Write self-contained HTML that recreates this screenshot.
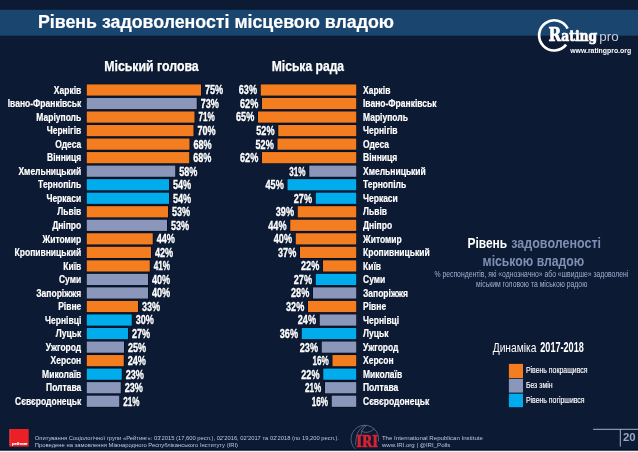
<!DOCTYPE html>
<html lang="uk"><head><meta charset="utf-8"><title>Рівень задоволеності місцевою владою</title>
<style>html,body{margin:0;padding:0;background:#0c1a33;}body{width:638px;height:452px;overflow:hidden;}svg{display:block;}text{font-family:"Liberation Sans",sans-serif;}.l{font-weight:bold;fill:#fff;stroke:#fff;stroke-width:0.2px;}.n{font-weight:bold;fill:#fff;stroke:#fff;stroke-width:0.35px;}</style>
</head><body>
<svg width="638" height="452" viewBox="0 0 638 452">
<rect x="0" y="0" width="638" height="452" fill="#0c1a33"/>
<rect x="0" y="9.8" width="638" height="25.9" fill="#19456f"/>
<text x="38" y="27.8" font-size="18" font-weight="bold" fill="#fff" stroke="#fff" stroke-width="0.2" textLength="356" lengthAdjust="spacingAndGlyphs">Рівень задоволеності місцевою владою</text>
<text x="104.2" y="70.8" font-size="14" font-weight="bold" fill="#fff" stroke="#fff" stroke-width="0.25" textLength="94.5" lengthAdjust="spacingAndGlyphs">Міський голова</text>
<text x="271.75" y="70.8" font-size="14" font-weight="bold" fill="#fff" stroke="#fff" stroke-width="0.25" textLength="72.3" lengthAdjust="spacingAndGlyphs">Міська рада</text>
<rect x="86.05" y="83.70" width="115.65" height="12.6" fill="#060e20"/>
<rect x="260.05" y="83.70" width="96.90" height="12.6" fill="#060e20"/>
<rect x="86.75" y="84.40" width="114.25" height="11.2" fill="#f47d20"/>
<rect x="260.75" y="84.40" width="95.50" height="11.2" fill="#f47d20"/>
<text class="l" x="53.82" y="93.65" font-size="10" textLength="27.43" lengthAdjust="spacingAndGlyphs">Харків</text>
<text class="l" x="363.00" y="93.65" font-size="10" textLength="27.43" lengthAdjust="spacingAndGlyphs">Харків</text>
<text class="n" x="205.00" y="94.40" font-size="13" textLength="18.20" lengthAdjust="spacingAndGlyphs">75%</text>
<text class="n" x="238.80" y="94.40" font-size="13" textLength="18.20" lengthAdjust="spacingAndGlyphs">63%</text>
<rect x="86.05" y="97.23" width="111.40" height="12.6" fill="#060e20"/>
<rect x="261.30" y="97.23" width="95.65" height="12.6" fill="#060e20"/>
<rect x="86.75" y="97.93" width="110.00" height="11.2" fill="#8a97ba"/>
<rect x="262.00" y="97.93" width="94.25" height="11.2" fill="#f47d20"/>
<text class="l" x="7.75" y="107.18" font-size="10" textLength="73.50" lengthAdjust="spacingAndGlyphs">Івано-Франківськ</text>
<text class="l" x="363.00" y="107.18" font-size="10" textLength="73.50" lengthAdjust="spacingAndGlyphs">Івано-Франківськ</text>
<text class="n" x="200.75" y="107.93" font-size="13" textLength="18.20" lengthAdjust="spacingAndGlyphs">73%</text>
<text class="n" x="240.05" y="107.93" font-size="13" textLength="18.20" lengthAdjust="spacingAndGlyphs">62%</text>
<rect x="86.05" y="110.76" width="109.15" height="12.6" fill="#060e20"/>
<rect x="257.30" y="110.76" width="99.65" height="12.6" fill="#060e20"/>
<rect x="86.75" y="111.46" width="107.75" height="11.2" fill="#f47d20"/>
<rect x="258.00" y="111.46" width="98.25" height="11.2" fill="#f47d20"/>
<text class="l" x="36.32" y="120.71" font-size="10" textLength="44.93" lengthAdjust="spacingAndGlyphs">Маріуполь</text>
<text class="l" x="363.00" y="120.71" font-size="10" textLength="44.93" lengthAdjust="spacingAndGlyphs">Маріуполь</text>
<text class="n" x="198.50" y="121.46" font-size="13" textLength="16.30" lengthAdjust="spacingAndGlyphs">71%</text>
<text class="n" x="236.05" y="121.46" font-size="13" textLength="18.20" lengthAdjust="spacingAndGlyphs">65%</text>
<rect x="86.05" y="124.30" width="108.15" height="12.6" fill="#060e20"/>
<rect x="277.55" y="124.30" width="79.40" height="12.6" fill="#060e20"/>
<rect x="86.75" y="125.00" width="106.75" height="11.2" fill="#f47d20"/>
<rect x="278.25" y="125.00" width="78.00" height="11.2" fill="#f47d20"/>
<text class="l" x="46.74" y="134.25" font-size="10" textLength="34.51" lengthAdjust="spacingAndGlyphs">Чернігів</text>
<text class="l" x="363.00" y="134.25" font-size="10" textLength="34.51" lengthAdjust="spacingAndGlyphs">Чернігів</text>
<text class="n" x="197.50" y="135.00" font-size="13" textLength="18.20" lengthAdjust="spacingAndGlyphs">70%</text>
<text class="n" x="256.30" y="135.00" font-size="13" textLength="18.20" lengthAdjust="spacingAndGlyphs">52%</text>
<rect x="86.05" y="137.83" width="104.15" height="12.6" fill="#060e20"/>
<rect x="276.80" y="137.83" width="80.15" height="12.6" fill="#060e20"/>
<rect x="86.75" y="138.53" width="102.75" height="11.2" fill="#f47d20"/>
<rect x="277.50" y="138.53" width="78.75" height="11.2" fill="#f47d20"/>
<text class="l" x="55.28" y="147.78" font-size="10" textLength="25.97" lengthAdjust="spacingAndGlyphs">Одеса</text>
<text class="l" x="363.00" y="147.78" font-size="10" textLength="25.97" lengthAdjust="spacingAndGlyphs">Одеса</text>
<text class="n" x="193.50" y="148.53" font-size="13" textLength="18.20" lengthAdjust="spacingAndGlyphs">68%</text>
<text class="n" x="255.55" y="148.53" font-size="13" textLength="18.20" lengthAdjust="spacingAndGlyphs">52%</text>
<rect x="86.05" y="151.36" width="103.90" height="12.6" fill="#060e20"/>
<rect x="261.30" y="151.36" width="95.65" height="12.6" fill="#060e20"/>
<rect x="86.75" y="152.06" width="102.50" height="11.2" fill="#f47d20"/>
<rect x="262.00" y="152.06" width="94.25" height="11.2" fill="#f47d20"/>
<text class="l" x="47.07" y="161.31" font-size="10" textLength="34.18" lengthAdjust="spacingAndGlyphs">Вінниця</text>
<text class="l" x="363.00" y="161.31" font-size="10" textLength="34.18" lengthAdjust="spacingAndGlyphs">Вінниця</text>
<text class="n" x="193.25" y="162.06" font-size="13" textLength="18.20" lengthAdjust="spacingAndGlyphs">68%</text>
<text class="n" x="240.05" y="162.06" font-size="13" textLength="18.20" lengthAdjust="spacingAndGlyphs">62%</text>
<rect x="86.05" y="164.89" width="89.90" height="12.6" fill="#060e20"/>
<rect x="308.55" y="164.89" width="48.40" height="12.6" fill="#060e20"/>
<rect x="86.75" y="165.59" width="88.50" height="11.2" fill="#8a97ba"/>
<rect x="309.25" y="165.59" width="47.00" height="11.2" fill="#8a97ba"/>
<text class="l" x="18.43" y="174.84" font-size="10" textLength="62.82" lengthAdjust="spacingAndGlyphs">Хмельницький</text>
<text class="l" x="363.00" y="174.84" font-size="10" textLength="62.82" lengthAdjust="spacingAndGlyphs">Хмельницький</text>
<text class="n" x="179.25" y="175.59" font-size="13" textLength="18.20" lengthAdjust="spacingAndGlyphs">58%</text>
<text class="n" x="289.20" y="175.59" font-size="13" textLength="16.30" lengthAdjust="spacingAndGlyphs">31%</text>
<rect x="86.05" y="178.42" width="83.65" height="12.6" fill="#060e20"/>
<rect x="286.80" y="178.42" width="70.15" height="12.6" fill="#060e20"/>
<rect x="86.75" y="179.12" width="82.25" height="11.2" fill="#00acec"/>
<rect x="287.50" y="179.12" width="68.75" height="11.2" fill="#00acec"/>
<text class="l" x="38.11" y="188.37" font-size="10" textLength="43.14" lengthAdjust="spacingAndGlyphs">Тернопіль</text>
<text class="l" x="363.00" y="188.37" font-size="10" textLength="43.14" lengthAdjust="spacingAndGlyphs">Тернопіль</text>
<text class="n" x="173.00" y="189.12" font-size="13" textLength="18.20" lengthAdjust="spacingAndGlyphs">54%</text>
<text class="n" x="265.55" y="189.12" font-size="13" textLength="18.20" lengthAdjust="spacingAndGlyphs">45%</text>
<rect x="86.05" y="191.96" width="83.65" height="12.6" fill="#060e20"/>
<rect x="315.05" y="191.96" width="41.90" height="12.6" fill="#060e20"/>
<rect x="86.75" y="192.66" width="82.25" height="11.2" fill="#00acec"/>
<rect x="315.75" y="192.66" width="40.50" height="11.2" fill="#00acec"/>
<text class="l" x="46.42" y="201.91" font-size="10" textLength="34.83" lengthAdjust="spacingAndGlyphs">Черкаси</text>
<text class="l" x="363.00" y="201.91" font-size="10" textLength="34.83" lengthAdjust="spacingAndGlyphs">Черкаси</text>
<text class="n" x="173.00" y="202.66" font-size="13" textLength="18.20" lengthAdjust="spacingAndGlyphs">54%</text>
<text class="n" x="293.80" y="202.66" font-size="13" textLength="18.20" lengthAdjust="spacingAndGlyphs">27%</text>
<rect x="86.05" y="205.49" width="82.65" height="12.6" fill="#060e20"/>
<rect x="297.05" y="205.49" width="59.90" height="12.6" fill="#060e20"/>
<rect x="86.75" y="206.19" width="81.25" height="11.2" fill="#f47d20"/>
<rect x="297.75" y="206.19" width="58.50" height="11.2" fill="#f47d20"/>
<text class="l" x="57.25" y="215.44" font-size="10" textLength="24.00" lengthAdjust="spacingAndGlyphs">Львів</text>
<text class="l" x="363.00" y="215.44" font-size="10" textLength="24.00" lengthAdjust="spacingAndGlyphs">Львів</text>
<text class="n" x="172.00" y="216.19" font-size="13" textLength="18.20" lengthAdjust="spacingAndGlyphs">53%</text>
<text class="n" x="275.80" y="216.19" font-size="13" textLength="18.20" lengthAdjust="spacingAndGlyphs">39%</text>
<rect x="86.05" y="219.02" width="81.65" height="12.6" fill="#060e20"/>
<rect x="289.55" y="219.02" width="67.40" height="12.6" fill="#060e20"/>
<rect x="86.75" y="219.72" width="80.25" height="11.2" fill="#8a97ba"/>
<rect x="290.25" y="219.72" width="66.00" height="11.2" fill="#f47d20"/>
<text class="l" x="52.18" y="228.97" font-size="10" textLength="29.07" lengthAdjust="spacingAndGlyphs">Дніпро</text>
<text class="l" x="363.00" y="228.97" font-size="10" textLength="29.07" lengthAdjust="spacingAndGlyphs">Дніпро</text>
<text class="n" x="171.00" y="229.72" font-size="13" textLength="18.20" lengthAdjust="spacingAndGlyphs">53%</text>
<text class="n" x="268.30" y="229.72" font-size="13" textLength="18.20" lengthAdjust="spacingAndGlyphs">44%</text>
<rect x="86.05" y="232.55" width="67.40" height="12.6" fill="#060e20"/>
<rect x="295.05" y="232.55" width="61.90" height="12.6" fill="#060e20"/>
<rect x="86.75" y="233.25" width="66.00" height="11.2" fill="#f47d20"/>
<rect x="295.75" y="233.25" width="60.50" height="11.2" fill="#f47d20"/>
<text class="l" x="42.51" y="242.50" font-size="10" textLength="38.74" lengthAdjust="spacingAndGlyphs">Житомир</text>
<text class="l" x="363.00" y="242.50" font-size="10" textLength="38.74" lengthAdjust="spacingAndGlyphs">Житомир</text>
<text class="n" x="156.75" y="243.25" font-size="13" textLength="18.20" lengthAdjust="spacingAndGlyphs">44%</text>
<text class="n" x="273.80" y="243.25" font-size="13" textLength="18.20" lengthAdjust="spacingAndGlyphs">40%</text>
<rect x="86.05" y="246.08" width="65.65" height="12.6" fill="#060e20"/>
<rect x="299.30" y="246.08" width="57.65" height="12.6" fill="#060e20"/>
<rect x="86.75" y="246.78" width="64.25" height="11.2" fill="#f47d20"/>
<rect x="300.00" y="246.78" width="56.25" height="11.2" fill="#f47d20"/>
<text class="l" x="14.58" y="256.03" font-size="10" textLength="66.67" lengthAdjust="spacingAndGlyphs">Кропивницький</text>
<text class="l" x="363.00" y="256.03" font-size="10" textLength="66.67" lengthAdjust="spacingAndGlyphs">Кропивницький</text>
<text class="n" x="155.00" y="256.78" font-size="13" textLength="18.20" lengthAdjust="spacingAndGlyphs">42%</text>
<text class="n" x="278.05" y="256.78" font-size="13" textLength="18.20" lengthAdjust="spacingAndGlyphs">37%</text>
<rect x="86.05" y="259.62" width="64.40" height="12.6" fill="#060e20"/>
<rect x="322.30" y="259.62" width="34.65" height="12.6" fill="#060e20"/>
<rect x="86.75" y="260.32" width="63.00" height="11.2" fill="#f47d20"/>
<rect x="323.00" y="260.32" width="33.25" height="11.2" fill="#f47d20"/>
<text class="l" x="63.22" y="269.57" font-size="10" textLength="18.03" lengthAdjust="spacingAndGlyphs">Київ</text>
<text class="l" x="363.00" y="269.57" font-size="10" textLength="18.03" lengthAdjust="spacingAndGlyphs">Київ</text>
<text class="n" x="153.75" y="270.32" font-size="13" textLength="16.30" lengthAdjust="spacingAndGlyphs">41%</text>
<text class="n" x="301.05" y="270.32" font-size="13" textLength="18.20" lengthAdjust="spacingAndGlyphs">22%</text>
<rect x="86.05" y="273.15" width="62.65" height="12.6" fill="#060e20"/>
<rect x="315.05" y="273.15" width="41.90" height="12.6" fill="#060e20"/>
<rect x="86.75" y="273.85" width="61.25" height="11.2" fill="#8a97ba"/>
<rect x="315.75" y="273.85" width="40.50" height="11.2" fill="#00acec"/>
<text class="l" x="58.98" y="283.10" font-size="10" textLength="22.27" lengthAdjust="spacingAndGlyphs">Суми</text>
<text class="l" x="363.00" y="283.10" font-size="10" textLength="22.27" lengthAdjust="spacingAndGlyphs">Суми</text>
<text class="n" x="152.00" y="283.85" font-size="13" textLength="18.20" lengthAdjust="spacingAndGlyphs">40%</text>
<text class="n" x="293.80" y="283.85" font-size="13" textLength="18.20" lengthAdjust="spacingAndGlyphs">27%</text>
<rect x="86.05" y="286.68" width="62.65" height="12.6" fill="#060e20"/>
<rect x="312.30" y="286.68" width="44.65" height="12.6" fill="#060e20"/>
<rect x="86.75" y="287.38" width="61.25" height="11.2" fill="#8a97ba"/>
<rect x="313.00" y="287.38" width="43.25" height="11.2" fill="#8a97ba"/>
<text class="l" x="36.31" y="296.63" font-size="10" textLength="44.94" lengthAdjust="spacingAndGlyphs">Запоріжжя</text>
<text class="l" x="363.00" y="296.63" font-size="10" textLength="44.94" lengthAdjust="spacingAndGlyphs">Запоріжжя</text>
<text class="n" x="152.00" y="297.38" font-size="13" textLength="18.20" lengthAdjust="spacingAndGlyphs">40%</text>
<text class="n" x="291.05" y="297.38" font-size="13" textLength="18.20" lengthAdjust="spacingAndGlyphs">28%</text>
<rect x="86.05" y="300.21" width="52.65" height="12.6" fill="#060e20"/>
<rect x="307.30" y="300.21" width="49.65" height="12.6" fill="#060e20"/>
<rect x="86.75" y="300.91" width="51.25" height="11.2" fill="#f47d20"/>
<rect x="308.00" y="300.91" width="48.25" height="11.2" fill="#f47d20"/>
<text class="l" x="58.13" y="310.16" font-size="10" textLength="23.12" lengthAdjust="spacingAndGlyphs">Рівне</text>
<text class="l" x="363.00" y="310.16" font-size="10" textLength="23.12" lengthAdjust="spacingAndGlyphs">Рівне</text>
<text class="n" x="142.00" y="310.91" font-size="13" textLength="18.20" lengthAdjust="spacingAndGlyphs">33%</text>
<text class="n" x="286.05" y="310.91" font-size="13" textLength="18.20" lengthAdjust="spacingAndGlyphs">32%</text>
<rect x="86.05" y="313.74" width="46.40" height="12.6" fill="#060e20"/>
<rect x="319.05" y="313.74" width="37.90" height="12.6" fill="#060e20"/>
<rect x="86.75" y="314.44" width="45.00" height="11.2" fill="#00acec"/>
<rect x="319.75" y="314.44" width="36.50" height="11.2" fill="#8a97ba"/>
<text class="l" x="45.05" y="323.69" font-size="10" textLength="36.20" lengthAdjust="spacingAndGlyphs">Чернівці</text>
<text class="l" x="363.00" y="323.69" font-size="10" textLength="36.20" lengthAdjust="spacingAndGlyphs">Чернівці</text>
<text class="n" x="135.75" y="324.44" font-size="13" textLength="18.20" lengthAdjust="spacingAndGlyphs">30%</text>
<text class="n" x="297.80" y="324.44" font-size="13" textLength="18.20" lengthAdjust="spacingAndGlyphs">24%</text>
<rect x="86.05" y="327.28" width="42.65" height="12.6" fill="#060e20"/>
<rect x="301.05" y="327.28" width="55.90" height="12.6" fill="#060e20"/>
<rect x="86.75" y="327.98" width="41.25" height="11.2" fill="#00acec"/>
<rect x="301.75" y="327.98" width="54.50" height="11.2" fill="#00acec"/>
<text class="l" x="55.85" y="337.23" font-size="10" textLength="25.40" lengthAdjust="spacingAndGlyphs">Луцьк</text>
<text class="l" x="363.00" y="337.23" font-size="10" textLength="25.40" lengthAdjust="spacingAndGlyphs">Луцьк</text>
<text class="n" x="132.00" y="337.98" font-size="13" textLength="18.20" lengthAdjust="spacingAndGlyphs">27%</text>
<text class="n" x="279.80" y="337.98" font-size="13" textLength="18.20" lengthAdjust="spacingAndGlyphs">36%</text>
<rect x="86.05" y="340.81" width="38.65" height="12.6" fill="#060e20"/>
<rect x="321.05" y="340.81" width="35.90" height="12.6" fill="#060e20"/>
<rect x="86.75" y="341.51" width="37.25" height="11.2" fill="#8a97ba"/>
<rect x="321.75" y="341.51" width="34.50" height="11.2" fill="#8a97ba"/>
<text class="l" x="45.76" y="350.76" font-size="10" textLength="35.49" lengthAdjust="spacingAndGlyphs">Ужгород</text>
<text class="l" x="363.00" y="350.76" font-size="10" textLength="35.49" lengthAdjust="spacingAndGlyphs">Ужгород</text>
<text class="n" x="128.00" y="351.51" font-size="13" textLength="18.20" lengthAdjust="spacingAndGlyphs">25%</text>
<text class="n" x="299.80" y="351.51" font-size="13" textLength="18.20" lengthAdjust="spacingAndGlyphs">23%</text>
<rect x="86.05" y="354.34" width="38.40" height="12.6" fill="#060e20"/>
<rect x="331.80" y="354.34" width="25.15" height="12.6" fill="#060e20"/>
<rect x="86.75" y="355.04" width="37.00" height="11.2" fill="#f47d20"/>
<rect x="332.50" y="355.04" width="23.75" height="11.2" fill="#f47d20"/>
<text class="l" x="50.61" y="364.29" font-size="10" textLength="30.64" lengthAdjust="spacingAndGlyphs">Херсон</text>
<text class="l" x="363.00" y="364.29" font-size="10" textLength="30.64" lengthAdjust="spacingAndGlyphs">Херсон</text>
<text class="n" x="127.75" y="365.04" font-size="13" textLength="18.20" lengthAdjust="spacingAndGlyphs">24%</text>
<text class="n" x="312.45" y="365.04" font-size="13" textLength="16.30" lengthAdjust="spacingAndGlyphs">16%</text>
<rect x="86.05" y="367.87" width="36.40" height="12.6" fill="#060e20"/>
<rect x="322.55" y="367.87" width="34.40" height="12.6" fill="#060e20"/>
<rect x="86.75" y="368.57" width="35.00" height="11.2" fill="#00acec"/>
<rect x="323.25" y="368.57" width="33.00" height="11.2" fill="#00acec"/>
<text class="l" x="42.08" y="377.82" font-size="10" textLength="39.17" lengthAdjust="spacingAndGlyphs">Миколаїв</text>
<text class="l" x="363.00" y="377.82" font-size="10" textLength="39.17" lengthAdjust="spacingAndGlyphs">Миколаїв</text>
<text class="n" x="125.75" y="378.57" font-size="13" textLength="18.20" lengthAdjust="spacingAndGlyphs">23%</text>
<text class="n" x="301.30" y="378.57" font-size="13" textLength="18.20" lengthAdjust="spacingAndGlyphs">22%</text>
<rect x="86.05" y="381.40" width="35.40" height="12.6" fill="#060e20"/>
<rect x="324.30" y="381.40" width="32.65" height="12.6" fill="#060e20"/>
<rect x="86.75" y="382.10" width="34.00" height="11.2" fill="#8a97ba"/>
<rect x="325.00" y="382.10" width="31.25" height="11.2" fill="#8a97ba"/>
<text class="l" x="46.03" y="391.35" font-size="10" textLength="35.22" lengthAdjust="spacingAndGlyphs">Полтава</text>
<text class="l" x="363.00" y="391.35" font-size="10" textLength="35.22" lengthAdjust="spacingAndGlyphs">Полтава</text>
<text class="n" x="124.75" y="392.10" font-size="13" textLength="18.20" lengthAdjust="spacingAndGlyphs">23%</text>
<text class="n" x="304.95" y="392.10" font-size="13" textLength="16.30" lengthAdjust="spacingAndGlyphs">21%</text>
<rect x="86.05" y="394.94" width="33.90" height="12.6" fill="#060e20"/>
<rect x="331.05" y="394.94" width="25.90" height="12.6" fill="#060e20"/>
<rect x="86.75" y="395.64" width="32.50" height="11.2" fill="#8a97ba"/>
<rect x="331.75" y="395.64" width="24.50" height="11.2" fill="#8a97ba"/>
<text class="l" x="15.07" y="404.89" font-size="10" textLength="66.18" lengthAdjust="spacingAndGlyphs">Сєвєродонецьк</text>
<text class="l" x="363.00" y="404.89" font-size="10" textLength="66.18" lengthAdjust="spacingAndGlyphs">Сєвєродонецьк</text>
<text class="n" x="123.25" y="405.64" font-size="13" textLength="16.30" lengthAdjust="spacingAndGlyphs">21%</text>
<text class="n" x="311.70" y="405.64" font-size="13" textLength="16.30" lengthAdjust="spacingAndGlyphs">16%</text>
<text x="467.4" y="248" font-size="14.5" font-weight="bold" fill="#fff" textLength="39.8" lengthAdjust="spacingAndGlyphs">Рівень</text>
<text x="511.3" y="248" font-size="14.5" font-weight="bold" fill="#7f8eb2" textLength="89.7" lengthAdjust="spacingAndGlyphs">задоволеності</text>
<text x="482.6" y="265.6" font-size="14.5" font-weight="bold" fill="#7f8eb2" textLength="101.7" lengthAdjust="spacingAndGlyphs">міською владою</text>
<text x="434.5" y="276.5" font-size="8.8" fill="#a3b1d2" textLength="193.8" lengthAdjust="spacingAndGlyphs">% респондентів, які «однозначно» або «швидше» задоволені</text>
<text x="476" y="286.6" font-size="8.8" fill="#a3b1d2" textLength="111.3" lengthAdjust="spacingAndGlyphs">міським головою та міською радою</text>
<text x="492.7" y="352.2" font-size="13.2" fill="#fff" textLength="43.8" lengthAdjust="spacingAndGlyphs">Динаміка</text>
<text x="540.3" y="352.2" font-size="14" font-weight="bold" fill="#fff" textLength="43.5" lengthAdjust="spacingAndGlyphs">2017-2018</text>
<rect x="508.9" y="363.9" width="14.1" height="14.1" fill="#f47d20"/>
<rect x="508.9" y="378.8" width="14.1" height="13.8" fill="#8a97ba"/>
<rect x="508.9" y="393.7" width="14.1" height="13.5" fill="#00acec"/>
<text x="525.9" y="373.1" font-size="9" fill="#fff" stroke="#fff" stroke-width="0.15" textLength="61.6" lengthAdjust="spacingAndGlyphs">Рівень покращився</text>
<text x="525.9" y="387.9" font-size="9" fill="#fff" stroke="#fff" stroke-width="0.15" textLength="26.6" lengthAdjust="spacingAndGlyphs">Без змін</text>
<text x="525.9" y="402.8" font-size="9" fill="#fff" stroke="#fff" stroke-width="0.15" textLength="58.7" lengthAdjust="spacingAndGlyphs">Рівень погіршився</text>
<path d="M 567.65 28.54 A 15.1 15.1 0 1 0 566.1 44.7" fill="none" stroke="#fff" stroke-width="2.7"/>
<text y="41.3" font-weight="bold" fill="#fff" stroke="#fff" stroke-width="0.7" style="font-family:'DejaVu Serif','Liberation Serif',serif"><tspan x="548.5" font-size="18.6" textLength="12.6" lengthAdjust="spacingAndGlyphs">R</tspan><tspan x="561.2" font-size="14" textLength="36" lengthAdjust="spacingAndGlyphs">ating</tspan></text>
<text x="599.3" y="40.9" font-size="13.7" fill="#c3ccdf" textLength="19.4" lengthAdjust="spacingAndGlyphs">pro</text>
<text x="570.2" y="53" font-size="7.6" font-weight="bold" fill="#fff" textLength="60.9" lengthAdjust="spacingAndGlyphs">www.ratingpro.org</text>
<rect x="9.3" y="429" width="19.4" height="17.6" fill="#eb2027"/>
<line x1="9.9" y1="429.5" x2="9.9" y2="446" stroke="#fff" stroke-width="0.5" stroke-dasharray="1 0.8" opacity="0.55"/>
<text x="12" y="445.4" font-size="3.6" font-weight="bold" fill="#fff" stroke="#fff" stroke-width="0.15" textLength="15.8" lengthAdjust="spacingAndGlyphs">рейтинг</text>
<text x="34.8" y="439.9" font-size="6.0" fill="#bcc8e0" textLength="304.2" lengthAdjust="spacingAndGlyphs">Опитування Соціологічної групи «Рейтинг»: 03'2015 (17,600 респ.), 02'2016, 02'2017 та 02'2018 (по 19,200 респ.).</text>
<text x="34.8" y="446.9" font-size="6.0" fill="#bcc8e0" textLength="203.2" lengthAdjust="spacingAndGlyphs">Проведене на замовлення Міжнародного Республіканського Інституту (IRI)</text>
<g fill="none" stroke="#8e9ab8" stroke-width="0.6" opacity="0.9"><path d="M 355.5 449.2 A 13.8 13.8 0 1 1 378.4 441.5"/><path d="M 365 425.4 C 359 428.5 355.8 434 355.6 445"/><path d="M 366.5 425.5 C 362.5 428.5 361 432 361 436"/><path d="M 361 430.4 C 364 433.6 370 432.8 374.2 428.8"/></g>
<text x="356.3" y="446.9" font-size="16.3" font-weight="bold" fill="#d8232f" stroke="#d8232f" stroke-width="0.7" style="font-family:'DejaVu Serif','Liberation Serif',serif" textLength="21.6" lengthAdjust="spacingAndGlyphs">IRI</text>
<text x="381.9" y="439.7" font-size="6.2" fill="#bcc8e0" textLength="101" lengthAdjust="spacingAndGlyphs">The International Republican Institute</text>
<text x="381.9" y="446.7" font-size="6.2" fill="#bcc8e0" textLength="68.4" lengthAdjust="spacingAndGlyphs">www.IRI.org | @IRI_Polls</text>
<rect x="593.1" y="428.8" width="45" height="1" fill="#a4b0cc"/>
<rect x="619.8" y="429" width="1" height="17.5" fill="#a4b0cc"/>
<text x="623" y="440.6" font-size="10.5" font-weight="bold" fill="#97a5c6" textLength="12.7" lengthAdjust="spacingAndGlyphs">20</text>
<rect x="0" y="449.3" width="638" height="1.5" fill="#050c1b"/>
<rect x="0" y="450.7" width="638" height="1.3" fill="#eef2f8"/>
</svg></body></html>
